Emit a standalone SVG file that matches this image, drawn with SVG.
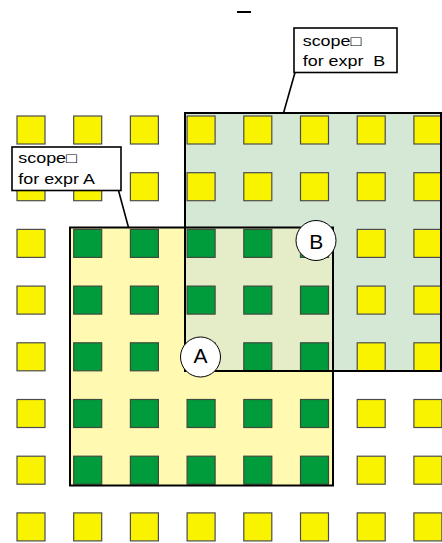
<svg xmlns="http://www.w3.org/2000/svg" width="442" height="543" viewBox="0 0 442 543">
<style>
.y{fill:#f9f300;stroke:#4d4d4d;stroke-width:1.2}
.g{fill:#009b3a;stroke:#3d4d3d;stroke-width:1.2}
.outline{fill:none;stroke:#000;stroke-width:2}
.lbl{fill:#fff;stroke:#000;stroke-width:1.6}
.t{font-family:"Liberation Sans",Arial,"DejaVu Sans",sans-serif;font-size:14px;fill:#000}
.c{fill:#fff;stroke:#000;stroke-width:1}
.ct{font-family:"Liberation Sans",Arial,sans-serif;font-size:21px;fill:#000;text-anchor:middle}
.lead{stroke:#000;stroke-width:1.6;fill:none}
</style>
<defs>
<rect id="sy" class="y" width="28" height="28"/>
<rect id="sg" class="g" width="28" height="28"/>
</defs>
<line x1="237" y1="12" x2="251" y2="12" stroke="#000" stroke-width="2"/>
<g id="scopeB-bg"><rect x="185" y="113" width="256" height="258" fill="#d5e8d5"/></g>
<g id="scopeA-bg"><rect x="70" y="227.5" width="263" height="258" fill="#fff9b1"/>
<rect x="185" y="227.5" width="148" height="143.5" fill="#e4ecc8"/></g>
<g id="grid">
<use href="#sy" x="17" y="116"/><use href="#sy" x="73.7" y="116"/><use href="#sy" x="130.4" y="116"/><use href="#sy" x="187.1" y="116"/><use href="#sy" x="243.8" y="116"/><use href="#sy" x="300.5" y="116"/><use href="#sy" x="357.2" y="116"/><use href="#sy" x="413.9" y="116"/>
<use href="#sy" x="17" y="172.7"/><use href="#sy" x="73.7" y="172.7"/><use href="#sy" x="130.4" y="172.7"/><use href="#sy" x="187.1" y="172.7"/><use href="#sy" x="243.8" y="172.7"/><use href="#sy" x="300.5" y="172.7"/><use href="#sy" x="357.2" y="172.7"/><use href="#sy" x="413.9" y="172.7"/>
<use href="#sy" x="17" y="229.4"/><use href="#sg" x="73.7" y="229.4"/><use href="#sg" x="130.4" y="229.4"/><use href="#sg" x="187.1" y="229.4"/><use href="#sg" x="243.8" y="229.4"/><use href="#sg" x="300.5" y="229.4"/><use href="#sy" x="357.2" y="229.4"/><use href="#sy" x="413.9" y="229.4"/>
<use href="#sy" x="17" y="286.1"/><use href="#sg" x="73.7" y="286.1"/><use href="#sg" x="130.4" y="286.1"/><use href="#sg" x="187.1" y="286.1"/><use href="#sg" x="243.8" y="286.1"/><use href="#sg" x="300.5" y="286.1"/><use href="#sy" x="357.2" y="286.1"/><use href="#sy" x="413.9" y="286.1"/>
<use href="#sy" x="17" y="342.8"/><use href="#sg" x="73.7" y="342.8"/><use href="#sg" x="130.4" y="342.8"/><use href="#sg" x="187.1" y="342.8"/><use href="#sg" x="243.8" y="342.8"/><use href="#sg" x="300.5" y="342.8"/><use href="#sy" x="357.2" y="342.8"/><use href="#sy" x="413.9" y="342.8"/>
<use href="#sy" x="17" y="399.5"/><use href="#sg" x="73.7" y="399.5"/><use href="#sg" x="130.4" y="399.5"/><use href="#sg" x="187.1" y="399.5"/><use href="#sg" x="243.8" y="399.5"/><use href="#sg" x="300.5" y="399.5"/><use href="#sy" x="357.2" y="399.5"/><use href="#sy" x="413.9" y="399.5"/>
<use href="#sy" x="17" y="456.2"/><use href="#sg" x="73.7" y="456.2"/><use href="#sg" x="130.4" y="456.2"/><use href="#sg" x="187.1" y="456.2"/><use href="#sg" x="243.8" y="456.2"/><use href="#sg" x="300.5" y="456.2"/><use href="#sy" x="357.2" y="456.2"/><use href="#sy" x="413.9" y="456.2"/>
<use href="#sy" x="17" y="512.9"/><use href="#sy" x="73.7" y="512.9"/><use href="#sy" x="130.4" y="512.9"/><use href="#sy" x="187.1" y="512.9"/><use href="#sy" x="243.8" y="512.9"/><use href="#sy" x="300.5" y="512.9"/><use href="#sy" x="357.2" y="512.9"/><use href="#sy" x="413.9" y="512.9"/>
</g>
<g id="scopeB"><rect class="outline" x="185" y="113" width="256" height="258"/></g>
<g id="scopeA"><rect class="outline" x="70" y="227.5" width="263" height="258"/></g>
<g id="markerB"><circle class="c" cx="316" cy="240.5" r="20"/><text class="ct" x="316.3" y="249.3">B</text></g>
<g id="markerA"><circle class="c" cx="200.5" cy="357" r="20"/><text class="ct" x="200.5" y="362.5">A</text></g>
<g id="connectors">
<line class="lead" x1="295" y1="72.5" x2="283.5" y2="113"/>
<line class="lead" x1="118.5" y1="190.5" x2="128.5" y2="227.5"/>
</g>
<g id="labelB"><rect class="lbl" x="294" y="28" width="103" height="44.5"/>
<text class="t" transform="translate(302.7,46) scale(1.28,1)">scope□</text>
<text class="t" transform="translate(302.7,66) scale(1.28,1)" xml:space="preserve">for expr  B</text></g>
<g id="labelA"><rect class="lbl" x="12" y="147" width="109" height="43.5"/>
<text class="t" transform="translate(18.3,163) scale(1.28,1)">scope□</text>
<text class="t" transform="translate(18.3,184) scale(1.28,1)">for expr A</text></g>
</svg>
